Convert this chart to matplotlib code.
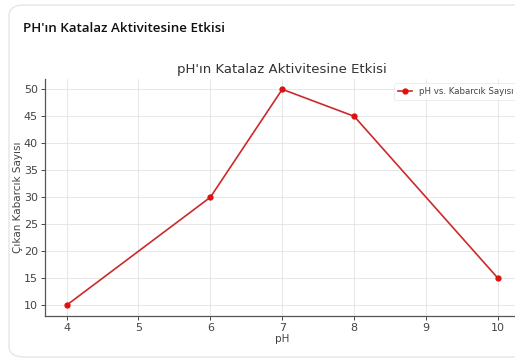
import matplotlib.pyplot as plt
from matplotlib.patches import FancyBboxPatch

# pH levels and bubble counts
ph_values = [4, 6, 7, 8, 10]
bubble_counts = [10, 30, 50, 45, 15]
x_ticks = [4, 5, 6, 7, 8, 9, 10]
y_ticks = [10, 15, 20, 25, 30, 35, 40, 45, 50]

fig = plt.figure(figsize=(5.15, 3.62), dpi=100)
fig.patch.set_facecolor('white')

# card behind the chart
card = FancyBboxPatch((9 / 515, 5 / 362), 1.2, 352 / 362,
                      boxstyle='round,pad=0,rounding_size=0.03',
                      transform=fig.transFigure, facecolor='white',
                      edgecolor='#e6e6e6', linewidth=1.0, zorder=-5)
fig.patches.append(card)
fig.text(23 / 515, 1 - 28 / 362, "PH'ın Katalaz Aktivitesine Etkisi",
         fontsize=9.6, fontweight='semibold', family=['Open Sans', 'DejaVu Sans'],
         color='#111111', va='center', ha='left')

ax = fig.add_axes([45 / 515, 1 - 316 / 362, 474.5 / 515, 237.5 / 362])
ax.set_zorder(5)
ax.set_facecolor('white')
ax.plot(ph_values, bubble_counts, color='#cc2a2a', linewidth=1.2,
        marker='o', markersize=3.5, markerfacecolor='#dd1111',
        markeredgecolor='#dd1111', label='pH vs. Kabarcık Sayısı')

ax.set_xticks(x_ticks)
ax.set_yticks(y_ticks)
ax.set_xlim(3.7, 10.3)
ax.set_ylim(8, 52)
ax.grid(True, color='#e3e3e3', linewidth=0.6)
ax.set_axisbelow(True)

for side in ['top', 'right']:
    ax.spines[side].set_visible(False)
for side in ['left', 'bottom']:
    ax.spines[side].set_color('#555555')
    ax.spines[side].set_linewidth(0.9)
ax.tick_params(labelsize=8, colors='#444444', length=3, width=0.7, pad=2)

ax.set_title("pH'ın Katalaz Aktivitesine Etkisi", fontsize=9.5,
             color='#333333', pad=4)
ax.set_xlabel('pH', fontsize=7.5, color='#444444', labelpad=1)
ax.set_ylabel('Çıkan Kabarcık Sayısı', fontsize=7.5, color='#444444',
              labelpad=1)

leg = ax.legend(loc='upper right', bbox_to_anchor=(1.005, 1.0),
                fontsize=6.2, frameon=True, handlelength=1.6,
                borderpad=0.5, handletextpad=0.8)
leg.get_frame().set_edgecolor('#e6e6e6')
leg.get_frame().set_linewidth(0.6)
for t in leg.get_texts():
    t.set_color('#444444')

fig.savefig('out.png', dpi=100, facecolor='white')
